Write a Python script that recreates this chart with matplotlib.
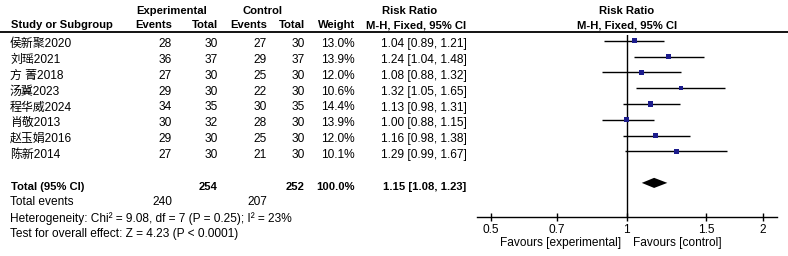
import numpy as np
import matplotlib
matplotlib.use('Agg')
import matplotlib.pyplot as plt

plt.rcParams['font.family'] = ['Liberation Sans', 'Noto Sans CJK SC']

# data
studies = ['侯新聚2020', '刘瑶2021', '方 菁2018', '汤冀2023', '程华威2024', '肖敬2013', '赵玉娟2016', '陈新2014']
exp_events = [28, 36, 27, 29, 34, 30, 29, 27]
exp_total = [30, 37, 30, 30, 35, 32, 30, 30]
ctl_events = [27, 29, 25, 22, 30, 28, 25, 21]
ctl_total = [30, 37, 30, 30, 35, 30, 30, 30]
weights = [13.0, 13.9, 12.0, 10.6, 14.4, 13.9, 12.0, 10.1]
rr = [1.04, 1.24, 1.08, 1.32, 1.13, 1.00, 1.16, 1.29]
rr_lo = [0.89, 1.04, 0.88, 1.05, 0.98, 0.88, 0.98, 0.99]
rr_hi = [1.21, 1.48, 1.32, 1.65, 1.31, 1.15, 1.38, 1.67]
pooled = (1.15, 1.08, 1.23)
tick_vals = [0.5, 0.7, 1, 1.5, 2]
tick_labels = ['0.5', '0.7', '1', '1.5', '2']

W, H = 788, 256
fig = plt.figure(figsize=(W / 100, H / 100), dpi=100)

# text layer, pixel coordinates
ax_t = fig.add_axes([0, 0, 1, 1])
ax_t.set_xlim(0, W)
ax_t.set_ylim(H, 0)
ax_t.axis('off')

fs = 8.6
fs_b = 8.1
ROW0, DY = 44.3, 15.8

def ty(i):
    return ROW0 + DY * i

def put(x, y, s, ha='left', bold=False):
    ax_t.text(x, y, s, ha=ha, va='center', fontsize=fs_b if bold else fs,
              fontweight='bold' if bold else 'normal', color='black')

# headers
put(172, 11.5, 'Experimental', ha='center', bold=True)
put(263, 11.5, 'Control', ha='center', bold=True)
put(410, 11.5, 'Risk Ratio', ha='center', bold=True)
put(627, 11.5, 'Risk Ratio', ha='center', bold=True)
put(11, 25.5, 'Study or Subgroup', bold=True)
put(172, 25.5, 'Events', ha='right', bold=True)
put(218, 25.5, 'Total', ha='right', bold=True)
put(267, 25.5, 'Events', ha='right', bold=True)
put(305, 25.5, 'Total', ha='right', bold=True)
put(355, 25.5, 'Weight', ha='right', bold=True)
put(416, 25.5, 'M-H, Fixed, 95% CI', ha='center', bold=True)
put(627, 25.5, 'M-H, Fixed, 95% CI', ha='center', bold=True)
ax_t.plot([0, W], [32.2, 32.2], color='black', lw=1.3)

for i, name in enumerate(studies):
    y = ty(i)
    put(10, y, name)
    put(172, y, str(exp_events[i]), ha='right')
    put(218, y, str(exp_total[i]), ha='right')
    put(267, y, str(ctl_events[i]), ha='right')
    put(305, y, str(ctl_total[i]), ha='right')
    put(355, y, '%.1f%%' % weights[i], ha='right')
    put(381, y, '%.2f [%.2f, %.2f]' % (rr[i], rr_lo[i], rr_hi[i]))

put(11, ty(9), 'Total (95% CI)', bold=True)
put(218, ty(9), str(sum(exp_total)), ha='right', bold=True)
put(305, ty(9), str(sum(ctl_total)), ha='right', bold=True)
put(355, ty(9), '100.0%', ha='right', bold=True)
put(466, ty(9), '%.2f [%.2f, %.2f]' % pooled, ha='right', bold=True)
put(10, ty(10), 'Total events')
put(172, ty(10), str(sum(exp_events)), ha='right')
put(267, ty(10), str(sum(ctl_events)), ha='right')
put(10, ty(11), 'Heterogeneity: Chi² = 9.08, df = 7 (P = 0.25); I² = 23%')
put(10, ty(12), 'Test for overall effect: Z = 4.23 (P < 0.0001)')

# forest panel
x0, x1 = 476.7, 777.0
ytop, ybot = 35.0, 216.7
ax = fig.add_axes([x0 / W, (H - ybot) / H, (x1 - x0) / W, (ybot - ytop) / H])
ax.patch.set_alpha(0)
ax.set_xscale('log')
ax.set_xlim(0.466, 2.15)
mark0 = 40.7
ax.set_ylim((ybot - mark0) / DY, (ytop - mark0) / DY)
for s in ['top', 'left', 'right']:
    ax.spines[s].set_visible(False)
ax.spines['bottom'].set_linewidth(1.0)
ax.set_yticks([])
ax.set_xticks(tick_vals)
ax.set_xticklabels(tick_labels)
ax.minorticks_off()
ax.tick_params(axis='x', direction='inout', length=6, width=1.0, pad=2.5, labelsize=fs)
ax.axvline(1, color='black', lw=1.0)

rows = np.arange(len(studies))
ax.hlines(rows, rr_lo, rr_hi, color='black', lw=1.0)
sizes = [(5.0 * np.sqrt(w / 13.0) * 0.72) ** 2 for w in weights]
ax.scatter(rr, rows, s=sizes, marker='s', color='#1c1c8c', zorder=3, linewidths=0)

est, lo, hi = pooled
yd, hd = 9, 0.32
ax.fill([lo, est, hi, est], [yd, yd - hd, yd, yd + hd], color='black', lw=0)

put(620.7, 243.3, 'Favours [experimental]', ha='right')
put(632.7, 243.3, 'Favours [control]')

fig.savefig('out.png', dpi=100)
